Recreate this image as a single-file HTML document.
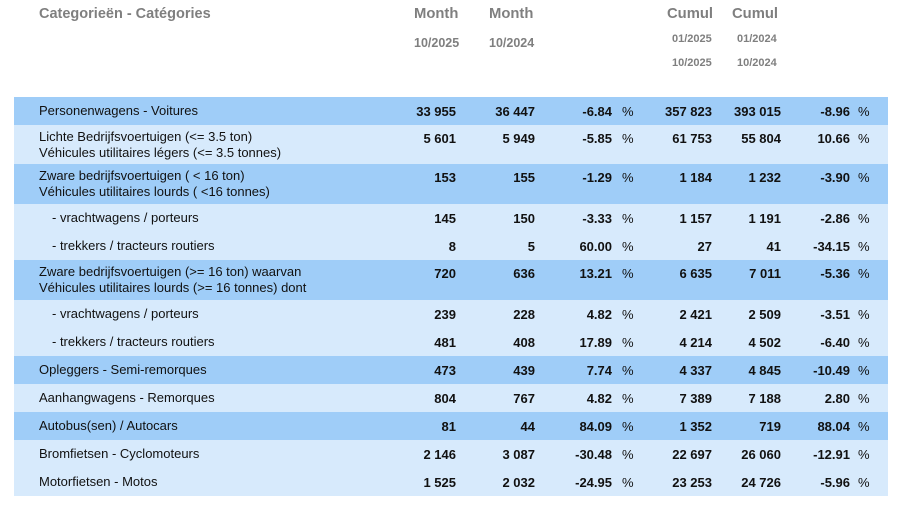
<!DOCTYPE html>
<html><head><meta charset="utf-8"><style>
body{margin:0;width:900px;height:507px;background:#fff;font-family:"Liberation Sans",Arial,sans-serif;position:relative;overflow:hidden}
.h{position:absolute;color:#7f7f7f;font-weight:bold;white-space:nowrap}
.r{position:absolute;left:14px;width:874px}
.d{background:#9fcdf8}.l{background:#d7eafc}
.t{position:absolute;font-size:13px;color:#111;white-space:nowrap;line-height:16px}
.n{position:absolute;font-size:13px;font-weight:bold;color:#111;text-align:right;line-height:16px}
</style></head><body>
<div class="h" style="left:39px;top:6px;font-size:14.5px">Categorieën - Catégories</div>
<div class="h" style="left:414px;top:6px;font-size:14.8px">Month</div>
<div class="h" style="left:489px;top:6px;font-size:14.8px">Month</div>
<div class="h" style="left:414px;top:36px;font-size:12.5px">10/2025</div>
<div class="h" style="left:489px;top:36px;font-size:12.5px">10/2024</div>
<div class="h" style="left:667px;top:6px;font-size:14.8px">Cumul</div>
<div class="h" style="left:732px;top:6px;font-size:14.8px">Cumul</div>
<div class="h" style="left:672px;top:33px;font-size:11px">01/2025</div>
<div class="h" style="left:737px;top:33px;font-size:11px">01/2024</div>
<div class="h" style="left:672px;top:57px;font-size:11px">10/2025</div>
<div class="h" style="left:737px;top:57px;font-size:11px">10/2024</div>
<div id="rows"></div>
<script>
const rows=[
["d",97,28,["Personenwagens - Voitures"],0,"33 955","36 447","-6.84","357 823","393 015","-8.96"],
["l",125,39,["Lichte Bedrijfsvoertuigen (<= 3.5 ton)","Véhicules utilitaires légers (<= 3.5 tonnes)"],0,"5 601","5 949","-5.85","61 753","55 804","10.66"],
["d",164,40,["Zware bedrijfsvoertuigen ( < 16 ton)","Véhicules utilitaires lourds ( <16 tonnes)"],0,"153","155","-1.29","1 184","1 232","-3.90"],
["l",204,28,["- vrachtwagens / porteurs"],1,"145","150","-3.33","1 157","1 191","-2.86"],
["l",232,28,["- trekkers / tracteurs routiers"],1,"8","5","60.00","27","41","-34.15"],
["d",260,40,["Zware bedrijfsvoertuigen (>= 16 ton) waarvan","Véhicules utilitaires lourds (>= 16 tonnes) dont"],0,"720","636","13.21","6 635","7 011","-5.36"],
["l",300,28,["- vrachtwagens / porteurs"],1,"239","228","4.82","2 421","2 509","-3.51"],
["l",328,28,["- trekkers / tracteurs routiers"],1,"481","408","17.89","4 214","4 502","-6.40"],
["d",356,28,["Opleggers - Semi-remorques"],0,"473","439","7.74","4 337","4 845","-10.49"],
["l",384,28,["Aanhangwagens - Remorques"],0,"804","767","4.82","7 389","7 188","2.80"],
["d",412,28,["Autobus(sen) / Autocars"],0,"81","44","84.09","1 352","719","88.04"],
["l",440,28,["Bromfietsen - Cyclomoteurs"],0,"2 146","3 087","-30.48","22 697","26 060","-12.91"],
["l",468,28,["Motorfietsen - Motos"],0,"1 525","2 032","-24.95","23 253","24 726","-5.96"]];
const rights=[456,535,612,712,781,850];let h="";
for(const r of rows){h+=`<div class="r ${r[0]}" style="top:${r[1]}px;height:${r[2]}px"></div>`;
const ty=r[3].length==1?r[1]+(r[2]-16)/2:r[1]+4;
h+=`<div class="t" style="left:${r[4]?52:39}px;top:${ty}px">${r[3].map(s=>s.replace(/</g,'&lt;')).join('<br>')}</div>`;
const ny=r[3].length==1?ty+1:r[1]+6;
for(let i=0;i<6;i++)h+=`<div class="n" style="left:${rights[i]-90}px;width:90px;top:${ny}px">${r[5+i]}</div>`;
h+=`<div class="t" style="left:622px;top:${ny}px">%</div><div class="t" style="left:858px;top:${ny}px">%</div>`;}
document.getElementById("rows").innerHTML=h;
</script>
</body></html>
